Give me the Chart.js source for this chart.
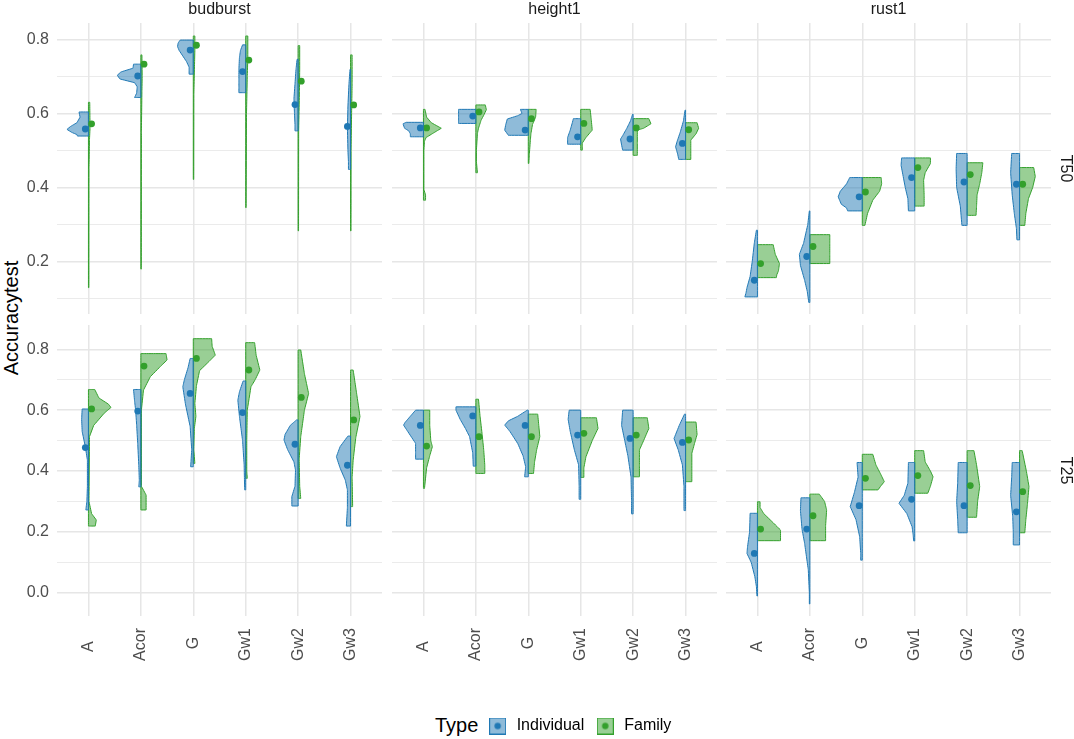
<!DOCTYPE html>
<html>
<head>
<meta charset="utf-8">
<script src="https://cdn.jsdelivr.net/npm/chart.js@4.4.1/dist/chart.umd.min.js"></script>
<style>
  html, body { margin: 0; padding: 0; background: #fff; overflow: hidden; }
  body { position: relative; width: 1074px; height: 739px; font-family: 'Liberation Sans', Arial, sans-serif; }
  canvas { position: absolute; }
  #ytitle { position: absolute; left: 11px; top: 318px; font-size: 20px; line-height: 20px; color: #000;
            white-space: nowrap; transform: translate(-50%, -50%) rotate(-90deg); }
  #legtitle { position: absolute; left: 435px; top: 715px; font-size: 20px; line-height: 20px; color: #000; }
</style>
</head>
<body>
<div id="ytitle">Accuracytest</div>
<div id="legtitle">Type</div>
<script>
// ---- data ----
const categories = ['A', 'Acor', 'G', 'Gw1', 'Gw2', 'Gw3'];
const traits = ['budburst', 'height1', 'rust1'];
const sets = ['T50', 'T25'];
const types = ['Individual', 'Family'];
const yTicks = [0, 0.1, 0.2, 0.3, 0.4, 0.5, 0.6, 0.7, 0.8];

// violin halves: [accuracy, density] from top to bottom, one profile per category
const budburstT50Ind = [
  [[0.604,0.18],[0.59,0.16],[0.575,0.22],[0.565,0.34],[0.557,0.41],[0.549,0.32],[0.543,0.22],[0.539,0.21]],
  [[0.733,0.14],[0.722,0.15],[0.712,0.38],[0.703,0.45],[0.693,0.4],[0.683,0.12],[0.672,0.07],[0.655,0.08],[0.643,0.12]],
  [[0.798,0.25],[0.79,0.29],[0.78,0.3],[0.77,0.27],[0.755,0.2],[0.74,0.13],[0.725,0.08],[0.706,0.08]],
  [[0.785,0.06],[0.77,0.1],[0.75,0.12],[0.72,0.13],[0.69,0.13],[0.67,0.13],[0.656,0.13]],
  [[0.746,0.02],[0.72,0.04],[0.68,0.06],[0.64,0.08],[0.60,0.07],[0.57,0.06],[0.553,0.06]],
  [[0.719,0.01],[0.68,0.03],[0.62,0.05],[0.56,0.06],[0.5,0.05],[0.47,0.04],[0.449,0.04]]
];
const budburstT50Fam = [
  [[0.63,0.025],[0.56,0.03],[0.53,0.02],[0.45,0.01],[0.2,0.008],[0.13,0.008]],
  [[0.758,0.02],[0.70,0.025],[0.66,0.02],[0.55,0.01],[0.18,0.008]],
  [[0.809,0.03],[0.77,0.03],[0.74,0.025],[0.65,0.01],[0.422,0.008]],
  [[0.809,0.04],[0.75,0.04],[0.70,0.03],[0.6,0.015],[0.346,0.008]],
  [[0.783,0.03],[0.72,0.03],[0.66,0.025],[0.55,0.01],[0.283,0.008]],
  [[0.758,0.03],[0.68,0.03],[0.6,0.02],[0.5,0.01],[0.283,0.008]]
];
const budburstT50IndMean = [0.558, 0.701, 0.771, 0.713, 0.624, 0.565];
const budburstT50FamMean = [0.572, 0.733, 0.784, 0.744, 0.687, 0.623];

const height1T50Ind = [
  [[0.576,0.33],[0.572,0.39],[0.56,0.36],[0.553,0.28],[0.545,0.25],[0.537,0.25]],
  [[0.611,0.33],[0.59,0.33],[0.573,0.33]],
  [[0.611,0.15],[0.60,0.12],[0.594,0.2],[0.585,0.4],[0.57,0.43],[0.555,0.45],[0.541,0.38]],
  [[0.586,0.14],[0.575,0.16],[0.555,0.2],[0.535,0.25],[0.517,0.25]],
  [[0.598,0.01],[0.58,0.05],[0.56,0.12],[0.54,0.2],[0.531,0.24],[0.515,0.22],[0.501,0.2]],
  [[0.609,0.01],[0.58,0.04],[0.55,0.1],[0.525,0.16],[0.51,0.19],[0.49,0.15],[0.476,0.13]]
];
const height1T50Fam = [
  [[0.611,0.03],[0.59,0.06],[0.575,0.15],[0.56,0.34],[0.548,0.2],[0.535,0.05],[0.525,0.02],[0.5,0.008],[0.395,0.008],[0.38,0.04],[0.366,0.04]],
  [[0.623,0.18],[0.61,0.2],[0.595,0.15],[0.582,0.1],[0.56,0.05],[0.546,0.03],[0.50,0.01],[0.47,0.01],[0.44,0.03]],
  [[0.611,0.15],[0.59,0.14],[0.57,0.08],[0.545,0.05],[0.528,0.04],[0.49,0.02],[0.465,0.01]],
  [[0.611,0.18],[0.585,0.2],[0.555,0.22],[0.535,0.1],[0.52,0.03],[0.501,0.03]],
  [[0.586,0.3],[0.572,0.34],[0.56,0.2],[0.555,0.08],[0.52,0.08],[0.487,0.08]],
  [[0.575,0.22],[0.56,0.25],[0.545,0.2],[0.528,0.1],[0.5,0.1],[0.476,0.1]]
];
const height1T50IndMean = [0.561, 0.593, 0.555, 0.537, 0.531, 0.519];
const height1T50FamMean = [0.561, 0.604, 0.586, 0.573, 0.561, 0.556];

const rust1T50Ind = [
  [[0.285,0.02],[0.25,0.06],[0.2,0.1],[0.16,0.14],[0.13,0.2],[0.115,0.22],[0.105,0.24]],
  [[0.337,0.01],[0.3,0.04],[0.25,0.12],[0.22,0.2],[0.19,0.18],[0.15,0.1],[0.12,0.05],[0.09,0.02]],
  [[0.427,0.24],[0.41,0.3],[0.39,0.42],[0.375,0.46],[0.355,0.4],[0.345,0.3],[0.337,0.28]],
  [[0.48,0.25],[0.46,0.26],[0.43,0.22],[0.40,0.18],[0.37,0.13],[0.337,0.12]],
  [[0.492,0.2],[0.45,0.21],[0.4,0.2],[0.35,0.13],[0.298,0.1]],
  [[0.492,0.15],[0.44,0.17],[0.38,0.14],[0.33,0.1],[0.29,0.06],[0.259,0.05]]
];
const rust1T50Fam = [
  [[0.246,0.3],[0.22,0.34],[0.195,0.42],[0.175,0.4],[0.165,0.37],[0.157,0.36]],
  [[0.273,0.38],[0.25,0.38],[0.22,0.38],[0.195,0.38]],
  [[0.427,0.36],[0.41,0.37],[0.39,0.33],[0.366,0.2],[0.33,0.1],[0.298,0.05]],
  [[0.48,0.3],[0.465,0.3],[0.44,0.2],[0.42,0.17],[0.38,0.18],[0.35,0.18]],
  [[0.467,0.3],[0.44,0.28],[0.41,0.24],[0.38,0.19],[0.35,0.18],[0.325,0.17]],
  [[0.454,0.27],[0.43,0.3],[0.40,0.25],[0.37,0.17],[0.33,0.12],[0.298,0.1]]
];
const rust1T50IndMean = [0.150, 0.214, 0.375, 0.427, 0.415, 0.409];
const rust1T50FamMean = [0.195, 0.241, 0.388, 0.454, 0.435, 0.409];

const budburstT25Ind = [
  [[0.604,0.12],[0.57,0.13],[0.53,0.12],[0.48,0.06],[0.436,0.02],[0.35,0.02],[0.3,0.03],[0.272,0.05]],
  [[0.668,0.14],[0.63,0.12],[0.60,0.1],[0.55,0.08],[0.49,0.06],[0.42,0.04],[0.37,0.03],[0.348,0.04]],
  [[0.770,0.06],[0.74,0.1],[0.70,0.17],[0.677,0.2],[0.62,0.15],[0.546,0.06],[0.47,0.03],[0.414,0.05]],
  [[0.696,0.05],[0.66,0.12],[0.633,0.15],[0.58,0.12],[0.5,0.06],[0.42,0.03],[0.338,0.02]],
  [[0.568,0.03],[0.55,0.15],[0.52,0.25],[0.502,0.27],[0.47,0.2],[0.43,0.08],[0.403,0.05],[0.35,0.06],[0.316,0.12],[0.285,0.12]],
  [[0.515,0.05],[0.48,0.2],[0.447,0.27],[0.41,0.2],[0.37,0.1],[0.338,0.06],[0.28,0.06],[0.219,0.08]]
];
const budburstT25Fam = [
  [[0.668,0.12],[0.64,0.2],[0.62,0.38],[0.609,0.43],[0.59,0.3],[0.55,0.1],[0.513,0.02],[0.3,0.01],[0.26,0.06],[0.239,0.15],[0.219,0.13]],
  [[0.786,0.48],[0.765,0.5],[0.745,0.38],[0.71,0.18],[0.666,0.05],[0.6,0.01],[0.35,0.01],[0.321,0.1],[0.272,0.1]],
  [[0.835,0.35],[0.81,0.36],[0.781,0.42],[0.76,0.3],[0.73,0.12],[0.68,0.06],[0.622,0.03],[0.58,0.05],[0.54,0.02],[0.47,0.01],[0.425,0.03]],
  [[0.822,0.17],[0.78,0.2],[0.732,0.27],[0.70,0.18],[0.677,0.1],[0.6,0.03],[0.5,0.02],[0.4,0.02],[0.376,0.03]],
  [[0.798,0.05],[0.72,0.12],[0.655,0.2],[0.6,0.12],[0.513,0.05],[0.44,0.02],[0.35,0.03],[0.31,0.05]],
  [[0.732,0.05],[0.65,0.12],[0.579,0.18],[0.51,0.1],[0.436,0.05],[0.38,0.03],[0.283,0.04]]
];
const budburstT25IndMean = [0.477, 0.597, 0.655, 0.592, 0.488, 0.419];
const budburstT25FamMean = [0.604, 0.745, 0.770, 0.732, 0.642, 0.568];

const height1T25Ind = [
  [[0.6,0.15],[0.58,0.25],[0.56,0.35],[0.551,0.38],[0.53,0.3],[0.491,0.15],[0.46,0.15],[0.439,0.15]],
  [[0.611,0.38],[0.6,0.38],[0.57,0.3],[0.54,0.2],[0.513,0.12],[0.46,0.06],[0.416,0.05]],
  [[0.6,0.02],[0.58,0.2],[0.565,0.38],[0.551,0.45],[0.53,0.35],[0.49,0.2],[0.45,0.1],[0.414,0.05],[0.381,0.07]],
  [[0.6,0.22],[0.57,0.24],[0.53,0.2],[0.469,0.12],[0.42,0.04],[0.35,0.03],[0.307,0.03]],
  [[0.6,0.2],[0.55,0.22],[0.5,0.16],[0.45,0.1],[0.38,0.04],[0.3,0.03],[0.259,0.03]],
  [[0.587,0.02],[0.55,0.12],[0.507,0.22],[0.47,0.14],[0.42,0.06],[0.35,0.03],[0.27,0.03]]
];
const height1T25Fam = [
  [[0.6,0.12],[0.55,0.12],[0.5,0.14],[0.48,0.17],[0.45,0.12],[0.41,0.06],[0.343,0.02]],
  [[0.636,0.05],[0.58,0.08],[0.52,0.12],[0.469,0.15],[0.42,0.17],[0.392,0.17]],
  [[0.587,0.18],[0.55,0.2],[0.513,0.22],[0.47,0.16],[0.43,0.12],[0.392,0.1]],
  [[0.575,0.3],[0.54,0.33],[0.5,0.22],[0.447,0.1],[0.41,0.06],[0.379,0.06]],
  [[0.575,0.27],[0.54,0.3],[0.5,0.2],[0.469,0.12],[0.42,0.12],[0.381,0.12]],
  [[0.561,0.2],[0.52,0.22],[0.49,0.17],[0.458,0.12],[0.4,0.12],[0.365,0.12]]
];
const height1T25IndMean = [0.550, 0.581, 0.550, 0.518, 0.507, 0.494];
const height1T25FamMean = [0.482, 0.513, 0.513, 0.524, 0.518, 0.502];

const rust1T25Ind = [
  [[0.261,0.14],[0.2,0.15],[0.15,0.19],[0.129,0.2],[0.1,0.12],[0.053,0.05],[0.02,0.02],[-0.011,0.01]],
  [[0.312,0.17],[0.27,0.18],[0.209,0.15],[0.162,0.1],[0.075,0.03],[0.0,0.01],[-0.037,0.01]],
  [[0.428,0.1],[0.38,0.08],[0.33,0.15],[0.283,0.23],[0.24,0.12],[0.184,0.05],[0.13,0.03],[0.107,0.03]],
  [[0.428,0.12],[0.36,0.13],[0.32,0.2],[0.294,0.3],[0.26,0.15],[0.217,0.05],[0.19,0.03],[0.17,0.02]],
  [[0.428,0.17],[0.36,0.18],[0.3,0.2],[0.24,0.18],[0.197,0.17]],
  [[0.428,0.14],[0.38,0.15],[0.32,0.17],[0.25,0.13],[0.2,0.12],[0.157,0.12]]
];
const rust1T25Fam = [
  [[0.299,0.05],[0.28,0.05],[0.26,0.12],[0.23,0.3],[0.206,0.44],[0.171,0.44]],
  [[0.324,0.18],[0.3,0.28],[0.272,0.32],[0.22,0.3],[0.171,0.3]],
  [[0.455,0.2],[0.42,0.26],[0.39,0.35],[0.365,0.42],[0.35,0.35],[0.338,0.3]],
  [[0.467,0.17],[0.43,0.2],[0.40,0.3],[0.381,0.35],[0.35,0.3],[0.327,0.25]],
  [[0.467,0.13],[0.42,0.18],[0.349,0.24],[0.3,0.2],[0.248,0.18]],
  [[0.467,0.05],[0.4,0.13],[0.349,0.18],[0.29,0.15],[0.24,0.12],[0.197,0.1]]
];
const rust1T25IndMean = [0.129, 0.209, 0.286, 0.307, 0.286, 0.266];
const rust1T25FamMean = [0.209, 0.253, 0.376, 0.385, 0.352, 0.332];

const panelData = {
  budburst: { T50: [budburstT50Ind, budburstT50Fam, budburstT50IndMean, budburstT50FamMean],
              T25: [budburstT25Ind, budburstT25Fam, budburstT25IndMean, budburstT25FamMean] },
  height1:  { T50: [height1T50Ind, height1T50Fam, height1T50IndMean, height1T50FamMean],
              T25: [height1T25Ind, height1T25Fam, height1T25IndMean, height1T25FamMean] },
  rust1:    { T50: [rust1T50Ind, rust1T50Fam, rust1T50IndMean, rust1T50FamMean],
              T25: [rust1T25Ind, rust1T25Fam, rust1T25IndMean, rust1T25FamMean] }
};

// ---- look ----
const blue = '#1F78B4', blueFill = 'rgba(31,120,180,0.5)';
const green = '#33A02C', greenFill = 'rgba(51,160,44,0.5)';
const gridColor = '#e6e6e6';
const fontFamily = "'Liberation Sans', Arial, sans-serif";
Chart.defaults.font.family = fontFamily;

const colLeft = [57, 392, 726];
const rowTop = [23, 325];
const panelW = 325, panelH = 291;
const rowRange = [[0.0589, 0.844], [-0.0766, 0.880]];
const dodge = 0.06;

// fill the closed violin outline using the points the scales placed
const violinFill = {
  id: 'violinFill',
  beforeDatasetDraw(chart, args) {
    const ds = chart.data.datasets[args.index];
    if (!ds.violin) return;
    const pts = args.meta.data;
    const ctx = chart.ctx;
    ctx.save();
    ctx.beginPath();
    pts.forEach((p, j) => j ? ctx.lineTo(p.x, p.y) : ctx.moveTo(p.x, p.y));
    ctx.closePath();
    ctx.fillStyle = ds.backgroundColor;
    ctx.fill();
    ctx.restore();
  }
};

function halfViolin(profile, center, side, line, fill) {
  const top = profile[0][0];
  const bottom = profile[profile.length - 1][0];
  const pts = profile.map(([v, d]) => ({ x: center + side * d, y: v }));
  return {
    violin: true,
    data: [{ x: center, y: top }, ...pts, { x: center, y: bottom }, { x: center, y: top }],
    showLine: true,
    tension: 0.0001,
    borderColor: line,
    borderWidth: 1,
    backgroundColor: fill,
    pointRadius: 0,
    order: 1,
    xAxisID: 'x',
    yAxisID: 'y'
  };
}

function meanPoints(means, offset, color) {
  return {
    data: means.map((m, i) => ({ x: i + 1 + offset, y: m })),
    showLine: false,
    pointRadius: 3.4,
    pointBorderWidth: 0,
    backgroundColor: color,
    order: 0,
    xAxisID: 'x',
    yAxisID: 'y'
  };
}

// centre the rotated category labels by padding the short ones
const measure = document.createElement('canvas').getContext('2d');
measure.font = '16px ' + fontFamily;
const maxLabelW = Math.max(...categories.map(c => measure.measureText(c).width));
const spaceW = measure.measureText(' ').width;
function centredLabel(c) {
  const n = Math.round((maxLabelW - measure.measureText(c).width) / 2 / spaceW);
  return c + ' '.repeat(n);
}

const isMajor = v => Math.round(v * 10) % 2 === 0;

// force an axis box to a fixed size and drop its label overhang padding
function fixSize(s, prop, size) {
  s[prop] = size;
  s.paddingTop = s.paddingBottom = s.paddingLeft = s.paddingRight = 0;
}

function makePanel(col, row) {
  const trait = traits[col], set = sets[row];
  const [indProfiles, famProfiles, indMeans, famMeans] = panelData[trait][set];
  const leftW = col === 0 ? 57 : 0;
  const rightW = col === 2 ? 24 : 0;
  const topH = row === 0 ? 23 : 0;
  const bottomH = row === 1 ? 70 : 0;

  const canvas = document.createElement('canvas');
  canvas.width = leftW + panelW + rightW;
  canvas.height = topH + panelH + bottomH;
  canvas.style.left = (colLeft[col] - leftW) + 'px';
  canvas.style.top = (rowTop[row] - topH) + 'px';
  document.body.appendChild(canvas);

  const datasets = [];
  categories.forEach((c, i) => {
    datasets.push(halfViolin(indProfiles[i], i + 1, -1, blue, blueFill));
    datasets.push(halfViolin(famProfiles[i], i + 1, 1, green, greenFill));
  });
  datasets.push(meanPoints(indMeans, -dodge, blue));
  datasets.push(meanPoints(famMeans, dodge, green));

  const [ymin, ymax] = rowRange[row];
  const scales = {
    x: {
      type: 'linear', position: 'bottom', min: 0.4, max: 6.6,
      afterBuildTicks: s => { s.ticks = categories.map((c, i) => ({ value: i + 1 })); },
      afterFit: s => fixSize(s, 'height', bottomH),
      grid: { color: gridColor, lineWidth: 1.5, drawTicks: false },
      border: { display: false },
      ticks: {
        display: row === 1, autoSkip: false, minRotation: 90, maxRotation: 90, padding: 12,
        color: '#4d4d4d', font: { size: 16 },
        callback: v => centredLabel(categories[Math.round(v) - 1])
      }
    },
    y: {
      type: 'linear', position: 'left', min: ymin, max: ymax,
      afterBuildTicks: s => { s.ticks = yTicks.filter(v => v >= ymin && v <= ymax).map(v => ({ value: v })); },
      afterFit: s => fixSize(s, 'width', leftW),
      grid: { color: gridColor, lineWidth: c => isMajor(c.tick.value) ? 1.5 : 0.8, drawTicks: false },
      border: { display: false },
      ticks: {
        display: col === 0, padding: 8, color: '#4d4d4d', font: { size: 16 },
        callback: v => isMajor(v) ? v.toFixed(1) : ''
      }
    }
  };
  if (row === 0) {
    scales.strip = {
      axis: 'x', type: 'linear', position: 'top',
      grid: { display: false }, border: { display: false }, ticks: { display: false },
      title: { display: true, text: trait, color: '#1a1a1a', font: { size: 16 }, padding: 0 },
      afterFit: s => fixSize(s, 'height', topH)
    };
  }
  if (col === 2) {
    scales.rowStrip = {
      axis: 'y', type: 'linear', position: 'right',
      grid: { display: false }, border: { display: false }, ticks: { display: false },
      title: { display: true, text: set, color: '#1a1a1a', font: { size: 16 }, padding: 0 },
      afterFit: s => fixSize(s, 'width', rightW)
    };
  }

  new Chart(canvas, {
    type: 'scatter',
    data: { datasets },
    options: {
      responsive: false,
      animation: false,
      events: [],
      layout: { padding: 0, autoPadding: false },
      plugins: { legend: { display: false }, tooltip: { enabled: false } },
      scales
    },
    plugins: [violinFill]
  });
}

for (let row = 0; row < 2; row++) {
  for (let col = 0; col < 3; col++) makePanel(col, row);
}

// ---- legend ----
function keyIcon(line, fill) {
  const c = document.createElement('canvas');
  c.width = 17; c.height = 17;
  const g = c.getContext('2d');
  g.fillStyle = fill;
  g.fillRect(0.5, 0.5, 16, 16);
  g.strokeStyle = line;
  g.lineWidth = 1;
  g.strokeRect(0.5, 0.5, 16, 16);
  g.fillStyle = line;
  g.beginPath();
  g.arc(8.5, 8.5, 3.2, 0, Math.PI * 2);
  g.fill();
  return c;
}
const keyIcons = [keyIcon(blue, blueFill), keyIcon(green, greenFill)];

const legendCanvas = document.createElement('canvas');
legendCanvas.width = 260;
legendCanvas.height = 90;
legendCanvas.style.left = '449px';
legendCanvas.style.top = '708px';
document.body.appendChild(legendCanvas);

new Chart(legendCanvas, {
  type: 'scatter',
  data: { datasets: types.map(t => ({ label: t, data: [] })) },
  options: {
    responsive: false,
    animation: false,
    events: [],
    layout: { padding: 0 },
    scales: { x: { display: false }, y: { display: false } },
    plugins: {
      tooltip: { enabled: false },
      legend: {
        display: true, position: 'top', align: 'center',
        labels: {
          usePointStyle: true, pointStyleWidth: 22, boxHeight: 17, padding: 10,
          color: '#1a1a1a', font: { size: 16 },
          generateLabels: () => types.map((t, k) => ({
            text: t, pointStyle: keyIcons[k], fillStyle: 'transparent',
            strokeStyle: 'transparent', lineWidth: 0, hidden: false, datasetIndex: k
          }))
        }
      }
    }
  }
});
</script>
</body>
</html>
